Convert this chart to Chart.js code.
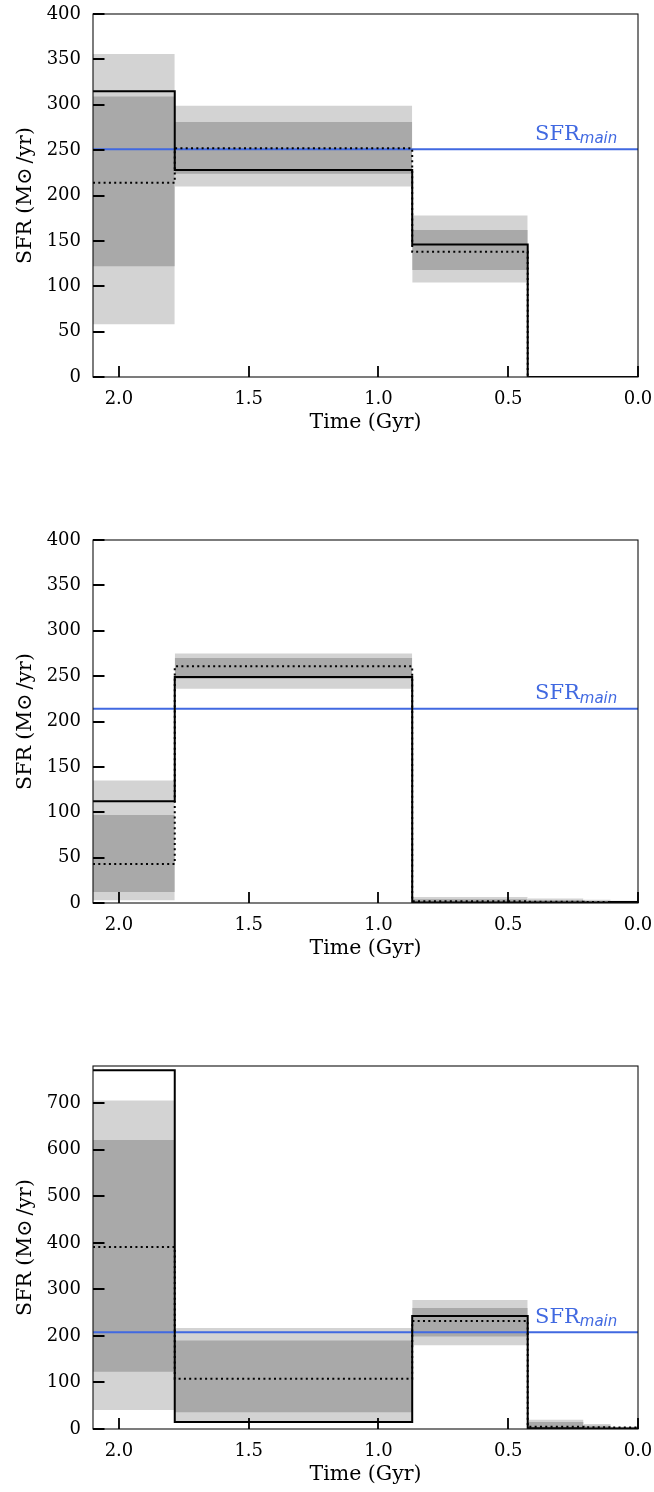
<!DOCTYPE html>
<html><head><meta charset="utf-8">
<script src="https://cdn.jsdelivr.net/npm/chart.js@4/dist/chart.umd.min.js"></script>
<style>
html,body{margin:0;padding:0;background:#fff;overflow:hidden;width:654px;height:1492px;}
.p{position:absolute;left:0;width:654px;height:440px;}
</style></head><body>
<div class="p" style="top:0px"><canvas id="c1" width="654" height="440"></canvas></div>
<div class="p" style="top:526px"><canvas id="c2" width="654" height="440"></canvas></div>
<div class="p" style="top:1052px"><canvas id="c3" width="654" height="440"></canvas></div>
<script>
// ---- data ----
const binEdges = [2.1, 1.785, 0.87, 0.425, 0.21, 0.105, 0.0];
const xTicks = [2.0, 1.5, 1.0, 0.5, 0.0];
const yTicksA = [0, 50, 100, 150, 200, 250, 300, 350, 400];
const yTicksB = [0, 100, 200, 300, 400, 500, 600, 700];

// panel 1
const lightLo1 = [58, 210, 104, 0, 0, 0];
const lightHi1 = [356, 299, 178, 0, 0, 0];
const darkLo1  = [122, 224, 118, 0, 0, 0];
const darkHi1  = [309, 281, 162, 0, 0, 0];
const solid1   = [315, 228, 146, 0, 0, 0];
const dotted1  = [214, 252, 138, 0, 0, 0];
const sfrMain1 = 251;
// panel 2
const lightLo2 = [3, 236, 0, 0, 0, 0];
const lightHi2 = [135, 275, 6.5, 5, 3.5, 2.5];
const darkLo2  = [12, 247, 0.5, 0.5, 0.5, 0.5];
const darkHi2  = [97, 270, 4, 3, 2, 1.5];
const solid2   = [112, 249, 0.5, 0.5, 0.5, 1];
const dotted2  = [43, 261, 2, 1.5, 1, 0.5];
const sfrMain2 = 214;
// panel 3
const lightLo3 = [41, 15, 180, 0, 0, 0];
const lightHi3 = [706, 217, 277, 20, 11, 5];
const darkLo3  = [123, 36, 199, 1, 1, 0.5];
const darkHi3  = [621, 190, 260, 15, 7, 3];
const solid3   = [771, 15, 243, 1.5, 1, 1];
const dotted3  = [391, 108, 232, 5, 4, 3];
const sfrMain3 = 208;

const xLabel = 'Time (Gyr)';
const yLabel = 'SFR (M\u2299\u2009/yr)';

// ---- drawing ----
Chart.defaults.font.family = "'DejaVu Serif'";
Chart.defaults.color = '#000';

const LIGHT = '#d3d3d3', DARK = '#a9a9a9', BLUE = '#4169e1';

function stepData(vals) {
  const d = vals.map((v, i) => ({x: binEdges[i], y: v}));
  d.push({x: binEdges[binEdges.length - 1], y: vals[vals.length - 1]});
  return d;
}
function bandSets(lo, hi, color, order) {
  const out = [];
  for (let i = 0; i < lo.length; i++) {
    if (!(hi[i] > lo[i])) continue;
    out.push({
      data: [{x: binEdges[i], y: hi[i]}, {x: binEdges[i + 1], y: hi[i]}],
      fill: {value: lo[i]}, backgroundColor: color,
      borderWidth: 0, borderColor: 'rgba(0,0,0,0)', pointRadius: 0, order: order
    });
  }
  return out;
}
function noPad(s) { s.paddingTop = 0; s.paddingBottom = 0; s.paddingLeft = 0; s.paddingRight = 0; }

const framePlugin = {
  id: 'frame',
  afterDatasetsDraw(chart) {
    const {ctx, chartArea: a, scales: {x, y}} = chart;
    ctx.save();
    // main label
    const main = chart.options.plugins.frame.main;
    const py = y.getPixelForValue(main) - 9.5;
    ctx.fillStyle = BLUE;
    ctx.textBaseline = 'alphabetic';
    ctx.textAlign = 'left';
    ctx.font = "21px 'DejaVu Serif'";
    ctx.fillText('SFR', 535, py);
    const w = ctx.measureText('SFR').width;
    ctx.font = "italic 15px 'DejaVu Sans'";
    ctx.fillText('main', 535 + w, py + 3.5);
    // box
    ctx.strokeStyle = '#111';
    ctx.lineWidth = 1.1;
    ctx.strokeRect(a.left, a.top, a.right - a.left, a.bottom - a.top);
    // inward ticks
    ctx.strokeStyle = '#000';
    ctx.lineWidth = 1.8;
    ctx.beginPath();
    y.ticks.forEach(t => {
      const p = Math.round(y.getPixelForValue(t.value));
      ctx.moveTo(a.left, p); ctx.lineTo(a.left + 11.5, p);
    });
    x.ticks.forEach(t => {
      const p = Math.round(x.getPixelForValue(t.value));
      ctx.moveTo(p, a.bottom); ctx.lineTo(p, a.bottom - 11);
    });
    ctx.stroke();
    ctx.restore();
  }
};

function makePanel(id, p) {
  const datasets = [].concat(
    bandSets(p.lightLo, p.lightHi, LIGHT, 6),
    bandSets(p.darkLo, p.darkHi, DARK, 5),
    [{data: [{x: binEdges[0], y: p.main}, {x: binEdges[binEdges.length - 1], y: p.main}],
      borderColor: BLUE, borderWidth: 2, pointRadius: 0, fill: false, order: 4},
     {data: stepData(p.dotted), stepped: true, borderColor: '#000', borderWidth: 2,
      borderDash: [2, 3.3], pointRadius: 0, fill: false, order: 3},
     {data: stepData(p.solid), stepped: true, borderColor: '#000', borderWidth: 2,
      pointRadius: 0, fill: false, order: 2}]
  );
  new Chart(document.getElementById(id), {
    type: 'line',
    data: {datasets},
    plugins: [framePlugin],
    options: {
      responsive: false, animation: false, events: [],
      devicePixelRatio: 1,
      layout: {padding: {top: 14, right: 16, left: 0, bottom: 0}},
      plugins: {legend: {display: false}, tooltip: {enabled: false}, frame: {main: p.main}},
      scales: {
        x: {
          type: 'linear', reverse: true, min: 0, max: 2.1,
          grid: {display: false, drawTicks: false}, border: {display: false},
          afterBuildTicks: s => { s.ticks = xTicks.map(v => ({value: v})); },
          afterFit: s => { s.height = 63; noPad(s); },
          ticks: {padding: 12, font: {size: 18}, callback: v => Number(v).toFixed(1), maxRotation: 0, autoSkip: false},
          title: {display: true, text: xLabel, font: {size: 20.5}, padding: {top: 0, bottom: 5}}
        },
        y: {
          type: 'linear', min: 0, max: p.ymax,
          grid: {display: false, drawTicks: false}, border: {display: false},
          afterBuildTicks: s => { s.ticks = p.yTicks.map(v => ({value: v})); },
          afterFit: s => { s.width = 93; noPad(s); },
          ticks: {padding: 12, font: {size: 18}, autoSkip: false},
          title: {display: true, text: yLabel, font: {size: 20.5}, padding: {top: 13, bottom: 0}}
        }
      }
    }
  });
}

makePanel('c1', {lightLo: lightLo1, lightHi: lightHi1, darkLo: darkLo1, darkHi: darkHi1,
  solid: solid1, dotted: dotted1, main: sfrMain1, ymax: 400, yTicks: yTicksA});
makePanel('c2', {lightLo: lightLo2, lightHi: lightHi2, darkLo: darkLo2, darkHi: darkHi2,
  solid: solid2, dotted: dotted2, main: sfrMain2, ymax: 400, yTicks: yTicksA});
makePanel('c3', {lightLo: lightLo3, lightHi: lightHi3, darkLo: darkLo3, darkHi: darkHi3,
  solid: solid3, dotted: dotted3, main: sfrMain3, ymax: 780, yTicks: yTicksB});
</script>
</body></html>
